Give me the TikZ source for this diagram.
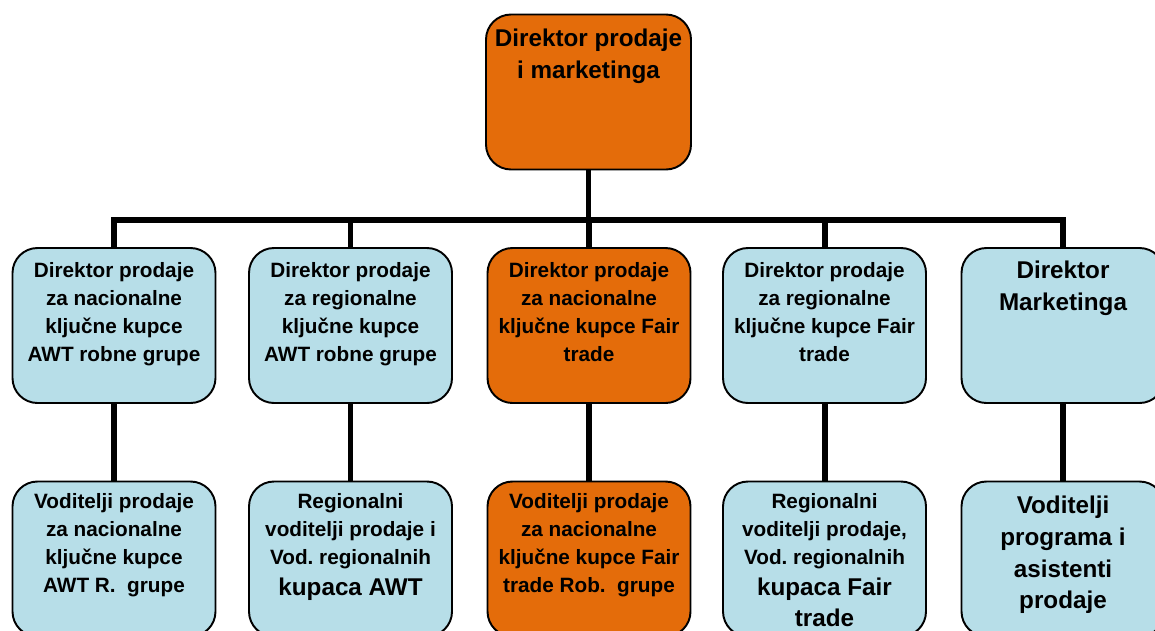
\documentclass[tikz,border=0pt]{standalone}
\usepackage{fontspec}
\setmainfont{Liberation Sans}
\usetikzlibrary{positioning}
\frenchspacing
\definecolor{narancasta}{HTML}{E46C0A}
\definecolor{plava}{HTML}{B7DEE8}
\newcommand{\malif}{\fontsize{11.8}{15.9}\selectfont}
\newcommand{\velikif}{\fontsize{13.8}{18.1}\selectfont}
\tikzset{
  kutija/.style={draw=black, line width=1.1pt, rounded corners=0.5cm, minimum width=4.06cm, minimum height=3.1cm, fill=plava},
  tekst/.style={align=center, inner sep=0pt, font=\bfseries\malif},
  veza/.style={line width=3.4pt}
}

\begin{document}
\begin{tikzpicture}
      \useasboundingbox (0,0) rectangle (23.1,12.6);
      \node[kutija, fill=narancasta, minimum width=4.1cm] (dir) at (11.77,10.76) {};
      \node[tekst, font=\bfseries\velikif, below=0.3cm of dir.north] (tdir) {Direktor prodaje\\i marketinga};
      \coordinate (sab) at (11.77,8.2);

      \node[kutija] (n1) at (2.28,6.09) {};
      \node[kutija] (n2) at (7.01,6.09) {};
      \node[kutija, fill=narancasta] (n3) at (11.78,6.09) {};
      \node[kutija] (n4) at (16.49,6.09) {};
      \node[kutija] (n5) at (21.26,6.09) {};

      \node[kutija] (v1) at (2.28,1.42) {};
      \node[kutija] (v2) at (7.01,1.42) {};
      \node[kutija, fill=narancasta] (v3) at (11.78,1.42) {};
      \node[kutija] (v4) at (16.49,1.42) {};
      \node[kutija] (v5) at (21.26,1.42) {};

      \node[tekst, below=0.3cm of n1.north] (tn1) {Direktor prodaje\\za nacionalne\\ključne kupce\\AWT robne grupe};
      \node[tekst, below=0.3cm of n2.north] (tn2) {Direktor prodaje\\za regionalne\\ključne kupce\\AWT robne grupe};
      \node[tekst, below=0.3cm of n3.north] (tn3) {Direktor prodaje\\za nacionalne\\ključne kupce Fair\\trade};
      \node[tekst, below=0.3cm of n4.north] (tn4) {Direktor prodaje\\za regionalne\\ključne kupce Fair\\trade};
      \node[tekst, font=\bfseries\velikif, below=0.28cm of n5.north] (tn5) {Direktor\\Marketinga};

      \node[tekst, below=0.26cm of v1.north] (tv1) {Voditelji prodaje\\za nacionalne\\ključne kupce\\AWT R.\ \ grupe};
      \node[tekst, below=0.26cm of v2.north] (tv2) {Regionalni\\voditelji prodaje i\\Vod. regionalnih\\[1.7pt]{\velikif kupaca AWT}};
      \node[tekst, below=0.26cm of v3.north] (tv3) {Voditelji prodaje\\za nacionalne\\ključne kupce Fair\\trade Rob.\ \ grupe};
      \node[tekst, below=0.26cm of v4.north] (tv4) {Regionalni\\voditelji prodaje,\\Vod. regionalnih\\[1.7pt]{\velikif kupaca Fair}\\[1.7pt]{\velikif trade}};
      \node[tekst, font=\bfseries\velikif, below=0.3cm of v5.north] (tv5) {Voditelji\\programa i\\asistenti\\prodaje};

      \draw[veza] (dir.south) -- (sab);
      \foreach \i in {1,...,5}
      \draw[veza] (n\i.north) |- (sab);
      \foreach \i in {1,...,5}
      \draw[veza] (n\i.south) -- (v\i.north);
    \end{tikzpicture}
\end{document}
